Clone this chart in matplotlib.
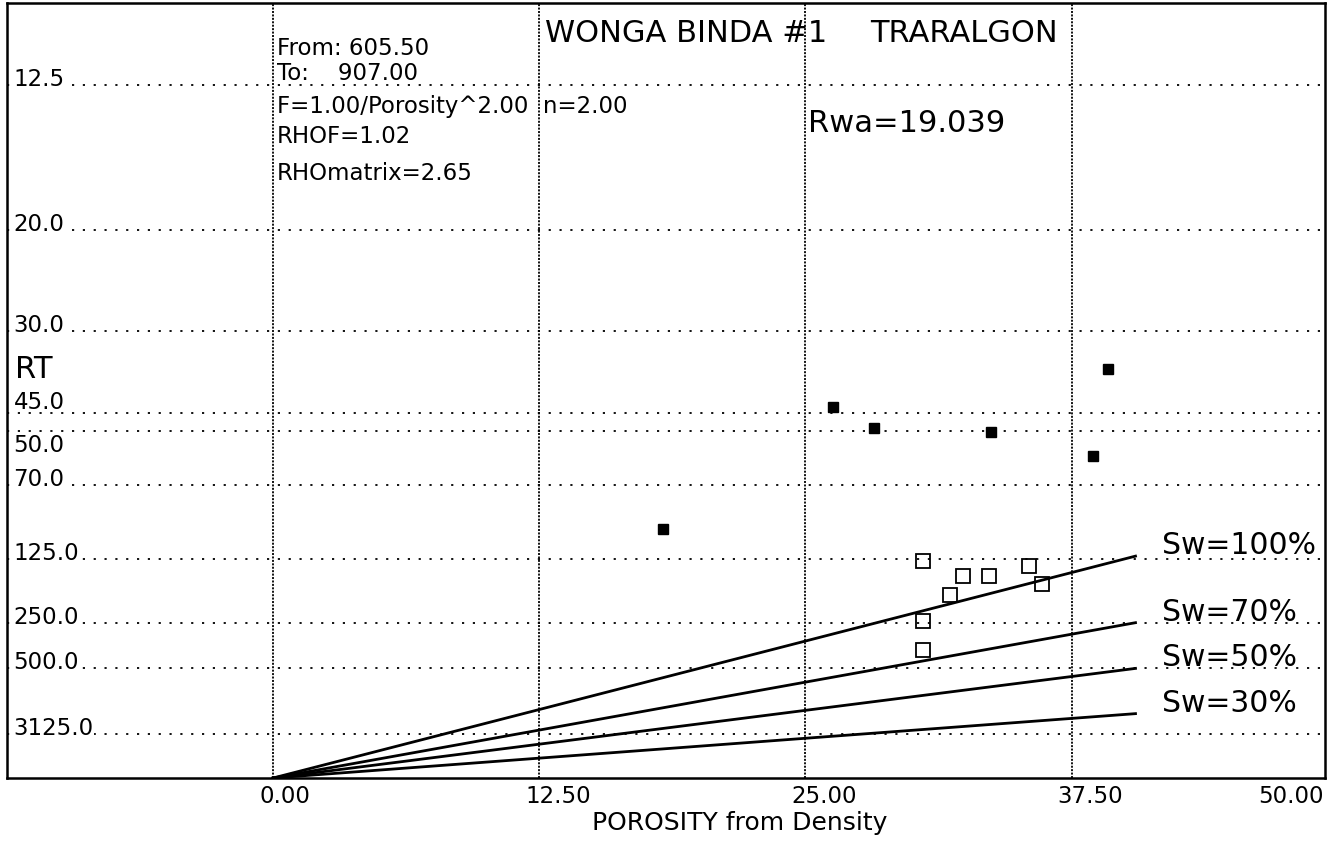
import matplotlib
matplotlib.use('Agg')
import matplotlib.pyplot as plt
import matplotlib.transforms as mtransforms
import numpy as np

# Resistivity grid values (RT) shown on the vertical axis
RT_TICKS = [12.5, 20.0, 30.0, 45.0, 50.0, 70.0, 125.0, 250.0, 500.0, 3125.0]
# Porosity ticks (percent)
PHI_TICKS = [0.0, 12.5, 25.0, 37.5, 50.0]

# Samples plotted with filled squares
PHI_FILLED = [18.3, 26.3, 28.2, 33.7, 38.5, 39.2]
RT_FILLED = [97.0, 43.6, 48.9, 50.3, 58.0, 35.9]

# Samples plotted with open squares
PHI_OPEN = [30.5, 30.5, 30.5, 31.8, 32.4, 33.6, 35.5, 36.1]
RT_OPEN = [127.0, 244.0, 368.0, 179.0, 147.0, 147.0, 134.0, 159.0]

# Water saturation lines: run from the origin to (SW_PHI_END, SW_RT_END)
SW_LABELS = ['Sw=100%', 'Sw=70%', 'Sw=50%', 'Sw=30%']
SW_PHI_END = 40.5
SW_RT_END = [122.0, 249.0, 500.0, 1450.0]

TITLE_WELL = 'WONGA BINDA #1'
TITLE_FM = 'TRARALGON'
RWA_TEXT = 'Rwa=19.039'
INFO_LINES = ['From: 605.50', 'To:    907.00',
              'F=1.00/Porosity^2.00  n=2.00', 'RHOF=1.02', 'RHOmatrix=2.65']
INFO_BASELINES = [55, 80, 113, 143, 180]

W, H = 1341, 845
SMALL = 16.5
BIG = 22

plt.rcParams['font.family'] = ['DejaVu Sans']


def hingle(rt):
    # Hingle plot ordinate: 1/sqrt(RT)
    return 1.0 / np.sqrt(np.asarray(rt, dtype=float))


def fig_xy(x, y):
    # pixel position measured from the top-left corner -> figure fraction
    return x / W, 1.0 - y / H


fig = plt.figure(figsize=(W / 100, H / 100), dpi=100)
left, right, top, bottom = 7, 1325, 4, 779
ax = fig.add_axes([left / W, 1 - bottom / H, (right - left) / W, (bottom - top) / H])
ax.set_xlim(-12.5, 49.4)
ax.set_ylim(0, hingle(10.0))
ax.set_xticks([])
ax.set_yticks([])
for s in ax.spines.values():
    s.set_linewidth(1.8)
    s.set_color('black')

# dotted grid
for rt in RT_TICKS:
    ax.axhline(hingle(rt), color='black', lw=1.3, linestyle=(0, (1.2, 4.8)), zorder=1)
for t in PHI_TICKS:
    if t < ax.get_xlim()[1]:
        ax.axvline(t, color='black', lw=1.3, linestyle=(0, (1.1, 0.8)), zorder=1)

# saturation lines
for lab, rt_end in zip(SW_LABELS, SW_RT_END):
    y_end = hingle(rt_end)
    ax.plot([0, SW_PHI_END], [0, y_end], color='black', lw=2.0, zorder=2)
    ax.annotate(lab, xy=(SW_PHI_END, y_end), xytext=(27, 3), textcoords='offset pixels',
                ha='left', va='baseline', fontsize=21.5, zorder=4)

# data points
ax.plot(PHI_FILLED, hingle(RT_FILLED), 's', ms=7, color='black', mec='black', zorder=3)
ax.plot(PHI_OPEN, hingle(RT_OPEN), 's', ms=10.5, mfc='none', mec='black', mew=1.3, zorder=3)

# y labels sit on their grid line, a couple are nudged to avoid overlap
shift = {45.0: 5, 50.0: -20}
ytrans = ax.get_yaxis_transform()
for rt in RT_TICKS:
    dy = shift.get(rt, 0)
    tr = mtransforms.offset_copy(ytrans, fig=fig, x=0, y=dy, units='dots')
    bb = dict(facecolor='white', edgecolor='none', pad=0.5) if dy == 0 else None
    ax.text(0.005, hingle(rt), f'{rt:.1f}', transform=tr, ha='left', va='baseline',
            fontsize=SMALL, bbox=bb, zorder=5)

# x labels
xtrans = ax.get_xaxis_transform()
for t in PHI_TICKS:
    if t < ax.get_xlim()[1]:
        ax.annotate(f'{t:.2f}', xy=(t, 0), xycoords=xtrans, xytext=(-14, -24),
                    textcoords='offset pixels', ha='left', va='baseline',
                    fontsize=SMALL, annotation_clip=False)
    else:
        ax.annotate(f'{t:.2f}', xy=(1, 0), xycoords='axes fraction', xytext=(-1, -24),
                    textcoords='offset pixels', ha='right', va='baseline',
                    fontsize=SMALL, annotation_clip=False)

fig.text(*fig_xy(740, 830), 'POROSITY from Density', ha='center', va='baseline', fontsize=18)
fig.text(*fig_xy(15, 378), 'RT', ha='left', va='baseline', fontsize=BIG)

# header texts
fig.text(*fig_xy(545, 42), TITLE_WELL, ha='left', va='baseline', fontsize=BIG)
fig.text(*fig_xy(870, 42), TITLE_FM, ha='left', va='baseline', fontsize=BIG)
fig.text(*fig_xy(808, 132), RWA_TEXT, ha='left', va='baseline', fontsize=BIG)
for line, yb in zip(INFO_LINES, INFO_BASELINES):
    fig.text(*fig_xy(277, yb), line, ha='left', va='baseline', fontsize=SMALL)

fig.savefig('out.png', dpi=100, facecolor='white')
